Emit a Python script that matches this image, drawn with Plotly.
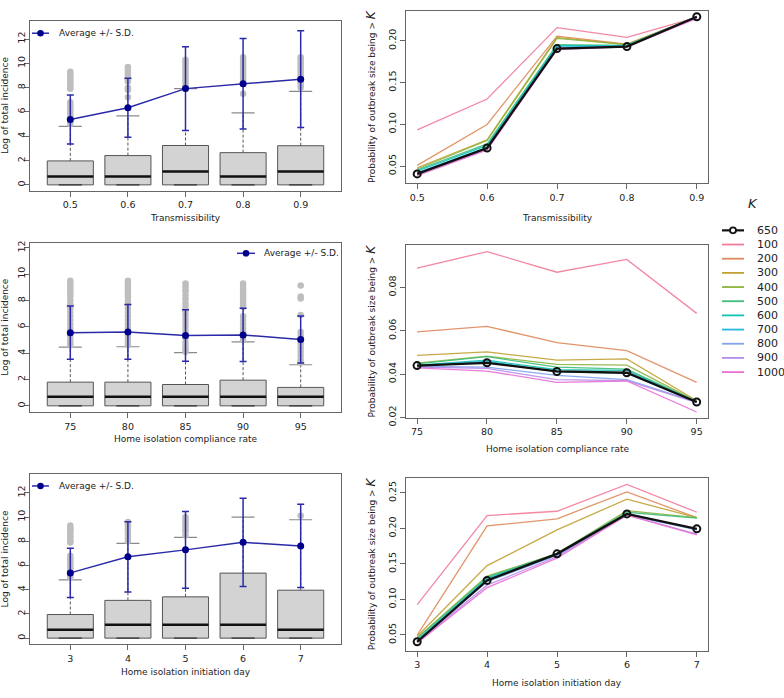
import plotly.graph_objects as go

W, H = 784, 698

# ---------------- data: left (boxplots + mean/SD) ----------------
trans_labels = ["0.5", "0.6", "0.7", "0.8", "0.9"]
comp_labels = ["75", "80", "85", "90", "95"]
day_labels = ["3", "4", "5", "6", "7"]

# Transmissibility
tl_q1 = [0, 0, 0, 0, 0]
tl_median = [0.69, 0.69, 1.10, 0.69, 1.10]
tl_q3 = [1.97, 2.41, 3.24, 2.65, 3.22]
tl_upper = [4.81, 5.68, 7.92, 5.92, 7.70]
tl_mean = [5.38, 6.35, 7.92, 8.32, 8.70]
tl_sd = [2.02, 2.43, 3.45, 3.73, 3.98]
tl_out = [
    [5.0, 5.2, 5.4, 5.6, 5.8, 6.0, 6.2, 6.4, 6.6, 6.8, 7.9, 8.0, 8.2, 8.4, 8.6, 8.8, 9.0, 9.1, 9.3],
    [7.2, 7.8, 8.0, 8.5, 8.7, 8.9, 9.1, 9.3, 9.5, 9.7],
    [8.0, 8.2, 8.4, 8.6, 8.8, 9.0, 9.2, 9.4, 9.6, 9.8, 10.0, 10.2, 10.3],
    [7.5, 8.3, 8.5, 8.7, 8.9, 9.1, 9.3, 9.5, 9.7, 9.9, 10.1, 10.3, 10.5],
    [8.0, 8.2, 8.4, 8.6, 8.8, 9.0, 9.2, 9.4, 9.6, 9.8, 10.0, 10.2, 10.4, 10.5],
]

# Home isolation compliance rate
ml_q1 = [0, 0, 0, 0, 0]
ml_median = [0.69, 0.69, 0.69, 0.69, 0.69]
ml_q3 = [1.80, 1.80, 1.62, 1.95, 1.40]
ml_upper = [4.46, 4.49, 4.04, 4.86, 3.12]
ml_mean = [5.56, 5.61, 5.34, 5.39, 5.04]
ml_sd = [2.03, 2.08, 1.96, 2.02, 1.78]
ml_out = [
    [4.6, 4.8, 5.0, 5.3, 5.6, 5.9, 6.2, 6.5, 6.8, 7.1, 7.4, 7.7, 8.0, 8.3, 8.5, 8.7, 8.9, 9.1, 9.3, 9.5],
    [4.6, 4.8, 5.0, 5.3, 5.6, 5.9, 6.2, 6.5, 6.8, 7.1, 7.4, 7.7, 8.0, 8.3, 8.5, 8.7, 8.9, 9.1, 9.3, 9.5],
    [4.1, 4.3, 4.5, 4.8, 5.1, 5.4, 5.7, 6.0, 6.3, 6.6, 6.9, 7.2, 7.5, 7.8, 8.1, 8.4, 8.7, 8.9, 9.1, 9.3],
    [5.0, 5.3, 5.6, 5.9, 6.2, 6.5, 6.8, 7.5, 7.7, 7.9, 8.1, 8.3, 8.5, 8.7, 8.9, 9.1, 9.3],
    [3.3, 3.5, 3.8, 4.1, 4.4, 4.7, 5.0, 5.3, 5.6, 6.9, 8.15, 8.3, 9.15],
]

# Home isolation initiation day
bl_q1 = [0, 0, 0, 0, 0]
bl_median = [0.69, 1.10, 1.10, 1.10, 0.69]
bl_q3 = [1.95, 3.12, 3.41, 5.37, 3.96]
bl_upper = [4.82, 7.83, 8.32, 10.0, 9.78]
bl_mean = [5.39, 6.72, 7.29, 7.91, 7.62]
bl_sd = [2.03, 2.90, 3.18, 3.64, 3.43]
bl_out = [
    [5.0, 5.2, 5.4, 5.6, 5.8, 6.0, 6.2, 6.4, 6.6, 6.8, 7.9, 8.0, 8.2, 8.4, 8.6, 8.8, 9.0, 9.1, 9.3],
    [8.0, 8.3, 8.6, 8.8, 9.0, 9.2, 9.4, 9.6],
    [8.5, 8.8, 9.0, 9.2, 9.4, 9.6, 9.8, 10.0],
    [],
    [10.1],
]

# ---------------- data: right (probability lines) ----------------
K_values = ["100", "200", "300", "400", "500", "600", "700", "800", "900", "1000"]
K_colors = ["#F27C9A", "#E08A5C", "#C2A132", "#8CB43E", "#3FBE7E",
            "#12C2B2", "#25B8E2", "#80A4EE", "#B78CEB", "#EA70D6"]

trans_x = [0.5, 0.6, 0.7, 0.8, 0.9]
comp_x = [75, 80, 85, 90, 95]
day_x = [3, 4, 5, 6, 7]

tr_lines = {
    "100": [0.0932, 0.1302, 0.2157, 0.2039, 0.2280],
    "200": [0.0508, 0.0998, 0.2055, 0.1960, 0.2283],
    "300": [0.0480, 0.0815, 0.2040, 0.1953, 0.2283],
    "400": [0.0465, 0.0805, 0.2027, 0.1953, 0.2285],
    "500": [0.0453, 0.0765, 0.1953, 0.1945, 0.2285],
    "600": [0.0441, 0.0748, 0.1942, 0.1940, 0.2287],
    "700": [0.0421, 0.0724, 0.1926, 0.1935, 0.2285],
    "800": [0.0410, 0.0708, 0.1910, 0.1930, 0.2280],
    "900": [0.0402, 0.0702, 0.1902, 0.1928, 0.2275],
    "1000": [0.0386, 0.0692, 0.1894, 0.1925, 0.2267],
}
tr_k650 = [0.0406, 0.0716, 0.1906, 0.1930, 0.2287]

mr_lines = {
    "100": [0.0889, 0.0965, 0.0870, 0.0929, 0.0680],
    "200": [0.0595, 0.0620, 0.0545, 0.0508, 0.0362],
    "300": [0.0486, 0.0502, 0.0464, 0.0470, 0.0277],
    "400": [0.0450, 0.0483, 0.0445, 0.0441, 0.0274],
    "500": [0.0447, 0.0480, 0.0432, 0.0423, 0.0274],
    "600": [0.0441, 0.0464, 0.0420, 0.0417, 0.0271],
    "700": [0.0438, 0.0459, 0.0410, 0.0404, 0.0271],
    "800": [0.0435, 0.0432, 0.0394, 0.0374, 0.0270],
    "900": [0.0432, 0.0426, 0.0374, 0.0370, 0.0268],
    "1000": [0.0429, 0.0414, 0.0362, 0.0368, 0.0225],
}
mr_k650 = [0.0439, 0.0452, 0.0412, 0.0406, 0.0271]

br_lines = {
    "100": [0.0925, 0.2181, 0.2241, 0.2620, 0.2227],
    "200": [0.0495, 0.2034, 0.2135, 0.2514, 0.2150],
    "300": [0.0480, 0.1475, 0.1978, 0.2412, 0.2150],
    "400": [0.0460, 0.1327, 0.1646, 0.2250, 0.2150],
    "500": [0.0448, 0.1310, 0.1645, 0.2227, 0.2145],
    "600": [0.0425, 0.1295, 0.1638, 0.2205, 0.1990],
    "700": [0.0415, 0.1280, 0.1630, 0.2200, 0.1990],
    "800": [0.0405, 0.1250, 0.1618, 0.2190, 0.1980],
    "900": [0.0395, 0.1200, 0.1600, 0.2190, 0.1920],
    "1000": [0.0385, 0.1165, 0.1580, 0.2186, 0.1910],
}
br_k650 = [0.0403, 0.1267, 0.1641, 0.2204, 0.1993]

# ---------------- styling ----------------
FONT = "DejaVu Sans"
FRAME = "#666666"
TXT = "#222222"
BOX_FILL = "#D3D3D3"
BOX_LINE = "#555555"
OUT_COL = "#BEBEBE"
MEAN_PT = "#00008B"
MEAN_LN = "#2A2AA8"
BOXW = 0.8
STAPLEW = 0.4


def px(x):
    return x / W


def py(y):
    return 1 - y / H


fig = go.Figure()

left_panels = [
    ("x", "y", trans_labels, tl_q1, tl_median, tl_q3, tl_upper, tl_mean, tl_sd, tl_out),
    ("x2", "y2", comp_labels, ml_q1, ml_median, ml_q3, ml_upper, ml_mean, ml_sd, ml_out),
    ("x3", "y3", day_labels, bl_q1, bl_median, bl_q3, bl_upper, bl_mean, bl_sd, bl_out),
]

for xa, ya, labels, q1, med, q3, up, mean, sd, outs in left_panels:
    pos = list(range(1, len(labels) + 1))
    # whiskers (dashed)
    wx, wy = [], []
    for p, a, b in zip(pos, q3, up):
        wx += [p, p, None]
        wy += [a, b, None]
    fig.add_trace(go.Scatter(x=wx, y=wy, mode="lines", xaxis=xa, yaxis=ya,
                             line=dict(color=BOX_LINE, width=1, dash="3px,2px"),
                             showlegend=False, hoverinfo="skip"))
    # upper staples
    sx, sy = [], []
    for p, b in zip(pos, up):
        sx += [p - STAPLEW / 2, p + STAPLEW / 2, None]
        sy += [b, b, None]
    fig.add_trace(go.Scatter(x=sx, y=sy, mode="lines", xaxis=xa, yaxis=ya,
                             line=dict(color="#8a8a8a", width=1.2),
                             showlegend=False, hoverinfo="skip"))
    # boxes
    fig.add_trace(go.Bar(x=pos, y=[b - a for a, b in zip(q1, q3)], base=q1, width=BOXW,
                         xaxis=xa, yaxis=ya,
                         marker=dict(color=BOX_FILL, line=dict(color=BOX_LINE, width=1)),
                         showlegend=False, hoverinfo="skip"))
    # lower staples
    lx, ly = [], []
    for p, a in zip(pos, q1):
        lx += [p - STAPLEW / 2, p + STAPLEW / 2, None]
        ly += [a, a, None]
    fig.add_trace(go.Scatter(x=lx, y=ly, mode="lines", xaxis=xa, yaxis=ya,
                             line=dict(color="#333333", width=1.3),
                             showlegend=False, hoverinfo="skip"))
    # medians
    mx, my = [], []
    for p, m in zip(pos, med):
        mx += [p - BOXW / 2, p + BOXW / 2, None]
        my += [m, m, None]
    fig.add_trace(go.Scatter(x=mx, y=my, mode="lines", xaxis=xa, yaxis=ya,
                             line=dict(color="#111111", width=2.5),
                             showlegend=False, hoverinfo="skip"))
    # outliers
    ox, oy = [], []
    for p, vals in zip(pos, outs):
        ox += [p] * len(vals)
        oy += vals
    fig.add_trace(go.Scatter(x=ox, y=oy, mode="markers", xaxis=xa, yaxis=ya,
                             marker=dict(color=OUT_COL, size=6.5, line=dict(width=0)),
                             showlegend=False, hoverinfo="skip"))
    # mean +/- SD
    fig.add_trace(go.Scatter(x=pos, y=mean, mode="lines+markers", xaxis=xa, yaxis=ya,
                             line=dict(color=MEAN_LN, width=1.5),
                             marker=dict(color=MEAN_PT, size=7),
                             error_y=dict(type="data", array=sd, visible=True,
                                          color=MEAN_LN, thickness=1.5, width=3.5),
                             showlegend=False, hoverinfo="skip"))

right_panels = [
    ("x4", "y4", trans_x, tr_lines, tr_k650),
    ("x5", "y5", comp_x, mr_lines, mr_k650),
    ("x6", "y6", day_x, br_lines, br_k650),
]
for xa, ya, xs, lines, k650 in right_panels:
    for k, c in zip(K_values, K_colors):
        fig.add_trace(go.Scatter(x=xs, y=lines[k], mode="lines", xaxis=xa, yaxis=ya,
                                 line=dict(color=c, width=1.3), opacity=0.9,
                                 showlegend=False, hoverinfo="skip"))
    fig.add_trace(go.Scatter(x=xs, y=k650, mode="lines+markers", xaxis=xa, yaxis=ya,
                             line=dict(color="#111111", width=2.3),
                             marker=dict(symbol="circle-open", size=7, color="#111111",
                                         line=dict(width=2)),
                             showlegend=False, hoverinfo="skip"))

# ---------------- axes ----------------
panel_px = {
    1: (30, 341, 18.7, 190.7),
    2: (30, 341, 244, 415.7),
    3: (30, 341, 479, 651.7),
    4: (406, 708, 8, 183),
    5: (406, 708, 246, 421.7),
    6: (406, 708, 482.7, 658),
}
xranges = {1: [0.3, 5.7], 2: [0.3, 5.7], 3: [0.3, 5.7],
           4: [0.484, 0.916], 5: [74.21, 95.81], 6: [2.84, 7.16]}
yranges = {1: [-0.48, 13.45], 2: [-0.48, 12.36], 3: [-0.52, 13.52],
           4: [0.0296, 0.2357], 5: [0.0197, 0.0995], 6: [0.0278, 0.2708]}
xticks = {1: (list(range(1, 6)), trans_labels), 2: (list(range(1, 6)), comp_labels),
          3: (list(range(1, 6)), day_labels),
          4: (trans_x, trans_labels), 5: (comp_x, comp_labels), 6: (day_x, day_labels)}
yticks = {
    1: ([0, 2, 4, 6, 8, 10, 12], ["0", "2", "4", "6", "8", "10", "12"]),
    2: ([0, 2, 4, 6, 8, 10, 12], ["0", "2", "4", "6", "8", "10", "12"]),
    3: ([0, 2, 4, 6, 8, 10, 12], ["0", "2", "4", "6", "8", "10", "12"]),
    4: ([0.05, 0.10, 0.15, 0.20], ["0.05", "0.10", "0.15", "0.20"]),
    5: ([0.02, 0.04, 0.06, 0.08], ["0.02", "0.04", "0.06", "0.08"]),
    6: ([0.05, 0.10, 0.15, 0.20, 0.25], ["0.05", "0.10", "0.15", "0.20", "0.25"]),
}

layout = dict(
    width=W, height=H, margin=dict(l=0, r=0, t=0, b=0),
    paper_bgcolor="white", plot_bgcolor="white",
    font=dict(family=FONT, size=9, color=TXT),
    showlegend=False, barmode="overlay",
)
for i in range(1, 7):
    x0, x1, y0, y1 = panel_px[i]
    sfx = "" if i == 1 else str(i)
    layout["xaxis" + sfx] = dict(
        domain=[px(x0), px(x1)], range=xranges[i], anchor="y" + sfx,
        showgrid=False, zeroline=False, showline=True, mirror=True,
        linecolor=FRAME, linewidth=1, ticks="outside", ticklen=5,
        tickcolor=FRAME, tickwidth=1,
        tickvals=xticks[i][0], ticktext=xticks[i][1],
        tickfont=dict(family=FONT, size=9.5, color=TXT),
    )
    layout["yaxis" + sfx] = dict(
        domain=[py(y1), py(y0)], range=yranges[i], anchor="x" + sfx,
        showgrid=False, zeroline=False, showline=True, mirror=True,
        linecolor=FRAME, linewidth=1, ticks="outside", ticklen=5,
        tickcolor=FRAME, tickwidth=1, tickangle=-90,
        ticklabelstandoff=-5 if i <= 3 else 0,
        tickvals=yticks[i][0], ticktext=yticks[i][1],
        tickfont=dict(family=FONT, size=9.5, color=TXT),
    )
fig.update_layout(**layout)

# ---------------- text annotations & legends ----------------
ann = []
shapes = []


def text(x, y, s, size=9, angle=0, xanchor="center", yanchor="middle"):
    ann.append(dict(x=px(x), y=py(y), xref="paper", yref="paper", text=s,
                    showarrow=False, textangle=angle, xanchor=xanchor, yanchor=yanchor,
                    font=dict(family=FONT, size=size, color=TXT)))


x_titles = [
    (185.5, 218, "Transmissibility"),
    (185.5, 443, "Home isolation compliance rate"),
    (185.5, 680, "Home isolation initiation day"),
    (557, 218, "Transmissibility"),
    (557, 453, "Home isolation compliance rate"),
    (557, 691, "Home isolation initiation day"),
]
for x, y, s in x_titles:
    text(x, y, s)

for i in (1, 2, 3):
    _, _, y0, y1 = panel_px[i]
    text(5, (y0 + y1) / 2, "Log of total incidence", angle=-90)
for i in (4, 5, 6):
    _, _, y0, y1 = panel_px[i]
    text(371, (y0 + y1) / 2,
         "Probability of outbreak size being &gt; <span style='font-size:12px'><i>K</i></span>",
         angle=-90)

# "Average +/- S.D." legends
for lx0, lx1, ly, tx in [(32, 49, 30.7, 57), (237, 255, 254.3, 262), (32, 49, 490.7, 57)]:
    shapes.append(dict(type="line", xref="paper", yref="paper",
                       x0=px(lx0), x1=px(lx1), y0=py(ly), y1=py(ly),
                       line=dict(color=MEAN_LN, width=1.5)))
    cx = (lx0 + lx1) / 2
    shapes.append(dict(type="circle", xref="paper", yref="paper",
                       x0=px(cx - 3.3), x1=px(cx + 3.3), y0=py(ly + 3.3), y1=py(ly - 3.3),
                       fillcolor=MEAN_PT, line=dict(color=MEAN_PT, width=0)))
    text(tx, ly, "Average +/- S.D.", xanchor="left")

# K legend
text(753, 204, "<i>K</i>", size=13)
leg_labels = ["650"] + K_values
leg_colors = ["#111111"] + K_colors
for j, (lab, col) in enumerate(zip(leg_labels, leg_colors)):
    yy = 231 + j * 14.4
    shapes.append(dict(type="line", xref="paper", yref="paper",
                       x0=px(722), x1=px(744), y0=py(yy), y1=py(yy),
                       line=dict(color=col, width=2.2 if j == 0 else 1.8)))
    if j == 0:
        shapes.append(dict(type="circle", xref="paper", yref="paper",
                           x0=px(733 - 3), x1=px(733 + 3), y0=py(yy + 3), y1=py(yy - 3),
                           fillcolor="white", line=dict(color="#111111", width=1.8)))
    text(755, yy, lab, size=11, xanchor="left")

fig.update_layout(annotations=ann, shapes=shapes)
fig.write_html(
    "out.html",
    config={"displayModeBar": False},
    post_script="document.body.style.margin='0px';document.body.style.overflow='hidden';",
)
